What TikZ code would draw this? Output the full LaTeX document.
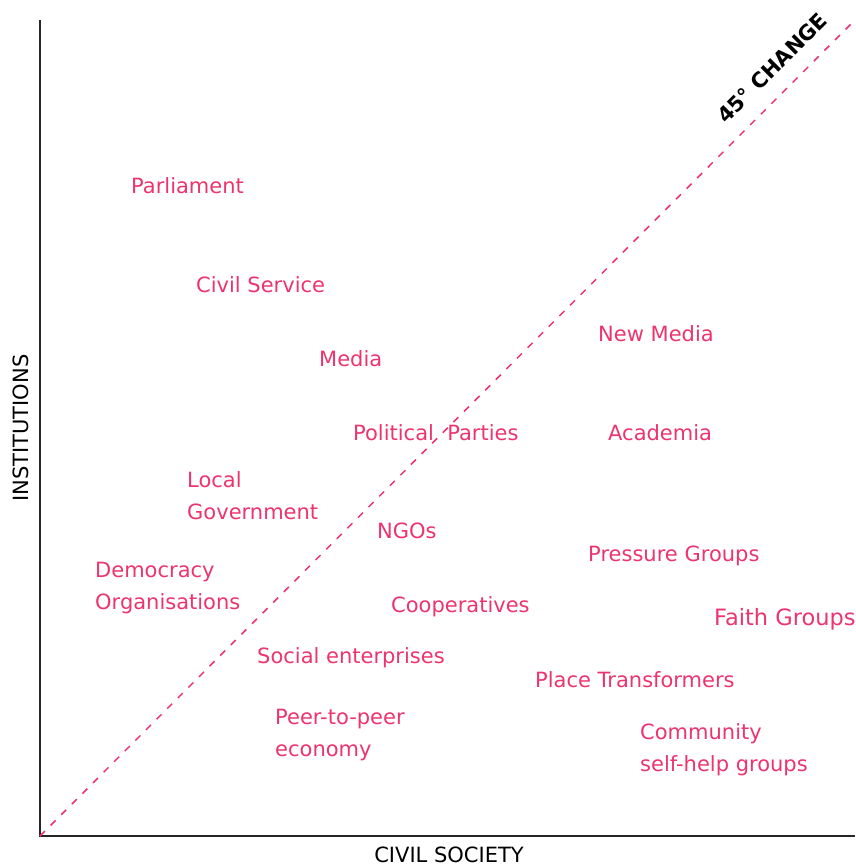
\documentclass[tikz,border=0pt]{standalone}
\usepackage{fontspec}
\setmainfont{DejaVu Sans}
\usepackage{tikz}
\usetikzlibrary{positioning}
\definecolor{civpink}{RGB}{236,52,110}

\begin{document}
\begin{tikzpicture}[
    x=1pt, y=-1pt,
    actor/.style={anchor=west, inner sep=0pt, text=civpink, align=left, font=\fontsize{21}{32}\selectfont},
    axis/.style={draw, line width=1.2pt, black!85},
    axislabel/.style={inner sep=0pt, font=\fontsize{21}{24}\selectfont},
    change/.style={draw=civpink, dash pattern=on 7pt off 8pt, line width=1.5pt}
]
\useasboundingbox (0,0) rectangle (855,866);

% Axes
\coordinate (origin) at (40,836);
\coordinate (ytop) at (40,20);
\coordinate (xend) at (855,836);
\coordinate (diagend) at (855,20);
\path[axis] (ytop) -- (origin) -- (xend);
\path[change] (origin) -- (diagend);

\node[axislabel, rotate=90] (institutions) at (21,428) {INSTITUTIONS};
\node[axislabel] (civil) at (449,855) {CIVIL SOCIETY};
\node[axislabel, rotate=45, font=\fontsize{21}{24}\selectfont\bfseries] (fortyfive) at (772,68) {45°\ CHANGE};

% Institutions side
\node[actor] (parliament) at (131,186) {Parliament};
\node[actor] (civilservice) at (196,285) {Civil Service};
\node[actor] (media) at (319,359) {Media};
\node[actor] (parties) at (353,433) {Political\ \ Parties};
\node[actor] (localgov) at (187,496) {Local\\Government};
\node[actor] (democracy) at (95,588) {Democracy\\Organisations};

% Civil society side
\node[actor] (newmedia) at (598,334) {New Media};
\node[actor] (academia) at (608,433) {Academia};
\node[actor] (ngos) at (377,531) {NGOs};
\node[actor] (pressure) at (588,556) {Pressure Groups};
\node[actor] (coops) at (391,607) {Cooperatives};
\node[actor, font=\fontsize{22.5}{32}\selectfont] (faith) at (714,619) {Faith Groups};
\node[actor] (social) at (257,658) {Social enterprises};
\node[actor] (place) at (535,680) {Place Transformers};
\node[actor] (peer) at (275,735) {Peer-to-peer\\economy};
\node[actor] (community) at (640,750) {Community\\self-help groups};

\end{tikzpicture}
\end{document}
